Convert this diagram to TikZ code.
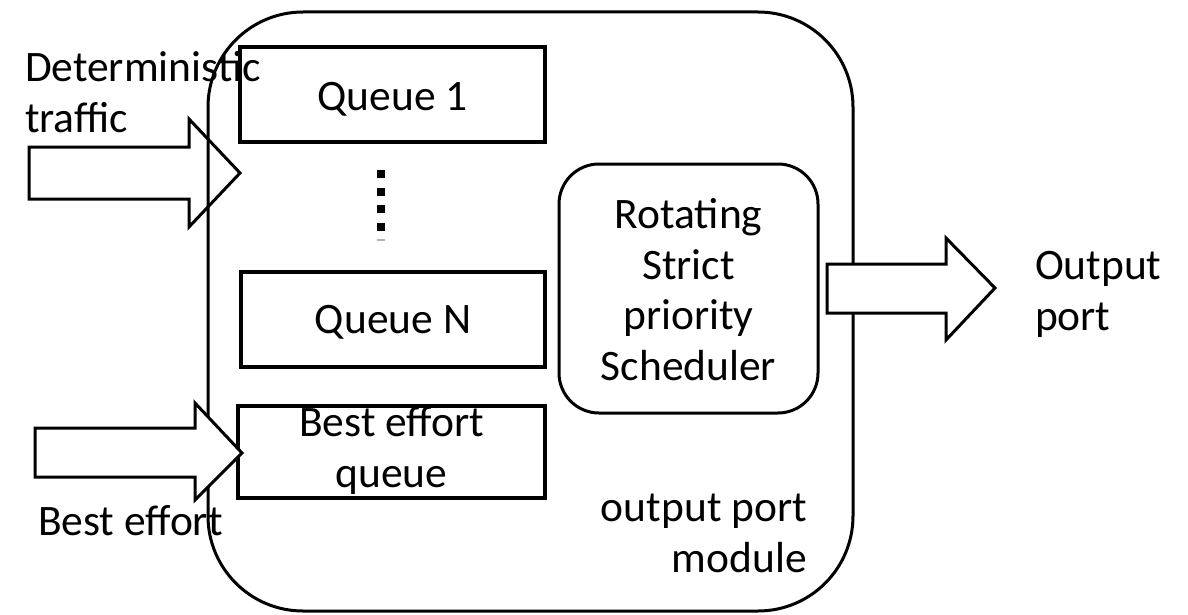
\documentclass[tikz,border=0pt]{standalone}
\usepackage{fontspec}
\setmainfont{Carlito}
\begin{document}
\begin{tikzpicture}[x=1pt,y=-1pt,
  txt/.style={font=\fontsize{43.5}{50.5}\selectfont, inner sep=0pt, outer sep=0pt},
  box/.style={draw, line width=3.5pt, inner sep=0pt},
  blockarrow/.style={draw, fill=white, line width=3pt, line join=miter}]
\useasboundingbox (0,0) rectangle (1188,615);
% incoming deterministic arrow (behind module border)
\draw[blockarrow] (29,147) -- (189,147) -- (189,119) -- (240,173) -- (189,227) -- (189,199) -- (29,199) -- cycle;
% module
\node[draw, line width=3pt, rounded corners=95pt, minimum width=645, minimum height=599] (module) at (530.5,311.5) {};
% queues
\node[box, minimum width=305, minimum height=95] (q1) at (392.5,94.5) {};
\node[txt, anchor=base] (q1text) at (392.5,111) {Queue 1};
\node[box, minimum width=304, minimum height=95] (qn) at (393,319.5) {};
\node[txt, anchor=base] (qntext) at (393,333) {Queue N};
\node[box, minimum width=307, minimum height=92] (be) at (391.5,452) {};
\node[txt, align=center, anchor=base] (betext) at (391.5,487) {Best effort\\queue};
% dots
\draw[line width=8pt, dash pattern=on 8pt off 9.5pt] (381,170) -- (381,231);
\fill[gray!60] (377,239) rectangle (385,241);
% scheduler
\node[box, line width=3pt, rounded corners=40pt, minimum width=259, minimum height=249] (sched) at (688.5,288.5) {};
\node[txt, align=center, anchor=base] (schedtext) at (688.5,380) {Rotating\\Strict\\priority\\Scheduler};
% best effort arrow
\draw[blockarrow] (35,428) -- (195,428) -- (195,403) -- (242,453) -- (195,500) -- (195,477) -- (35,477) -- cycle;
% output arrow
\draw[blockarrow] (827,264) -- (946,264) -- (946,238) -- (995,288) -- (946,340) -- (946,313) -- (827,313) -- cycle;
% texts
\node[txt, align=left, anchor=base west] (det) at (25,132) {Deterministic\\traffic};
\node[txt, anchor=base west] (belabel) at (38,535) {Best effort};
\node[txt, align=left, anchor=base west] (outport) at (1035,330) {Output\\port};
\node[txt, align=right, anchor=base east] (modlabel) at (807,572) {output port\\module};
\end{tikzpicture}
\end{document}
